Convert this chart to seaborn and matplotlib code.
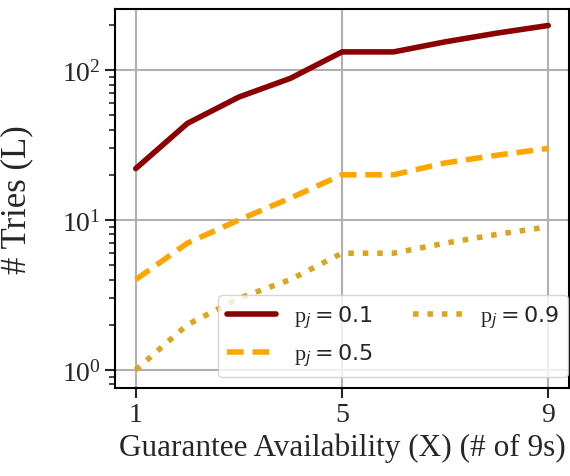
import matplotlib
matplotlib.use("Agg")
import matplotlib.pyplot as plt
import seaborn as sns
import pandas as pd

nines = [1, 2, 3, 4, 5, 6, 7, 8, 9]
tries_p01 = [22, 44, 66, 88, 132, 132, 154, 176, 198]
tries_p05 = [4, 7, 10, 14, 20, 20, 24, 27, 30]
tries_p09 = [1, 2, 3, 4, 6, 6, 7, 8, 9]

labels = [r'p$_j = 0.1$', r'p$_j = 0.5$', r'p$_j = 0.9$']
series = [tries_p01, tries_p05, tries_p09]
colors = ['darkred', 'orange', 'goldenrod']
styles = ['-', (0, (3, 1.6)), (0, (1, 1.6))]

sns.set_style('ticks')
plt.rcParams['font.family'] = ['Liberation Serif', 'DejaVu Serif']
plt.rcParams['mathtext.fontset'] = 'dejavusans'

fig, ax = plt.subplots(figsize=(5.7, 4.77), dpi=100)
fig.subplots_adjust(left=0.202, right=0.998, top=0.979, bottom=0.185)

for vals, lab, c, ls in zip(series, labels, colors, styles):
    df = pd.DataFrame({'x': nines, 'y': vals})
    sns.lineplot(data=df, x='x', y='y', ax=ax, color=c, linewidth=4,
                 linestyle=ls, label=lab)

ax.set_yscale('log')
ax.set_ylim(0.76, 255)
ax.set_xticks([1, 5, 9])
ax.grid(True, which='major', color='#b0b0b0', linewidth=1.5)
ax.tick_params(axis='both', which='major', labelsize=20, length=7, width=1.5)
ax.tick_params(axis='y', which='minor', length=4, width=1.2)
for s in ax.spines.values():
    s.set_linewidth(1.5)
    s.set_color('black')

ax.set_xlabel('Guarantee Availability (X) (# of 9s)', fontsize=22.5)
ax.set_ylabel('# Tries (L)', fontsize=25)
ax.yaxis.set_label_coords(-0.18, 0.5)

leg = ax.legend(loc='lower right', bbox_to_anchor=(1.0, 0.025), ncol=2,
                fontsize=16, handlelength=2.2, columnspacing=1.8,
                borderaxespad=0.05, framealpha=0.8)

fig.savefig('out.png', dpi=100)
